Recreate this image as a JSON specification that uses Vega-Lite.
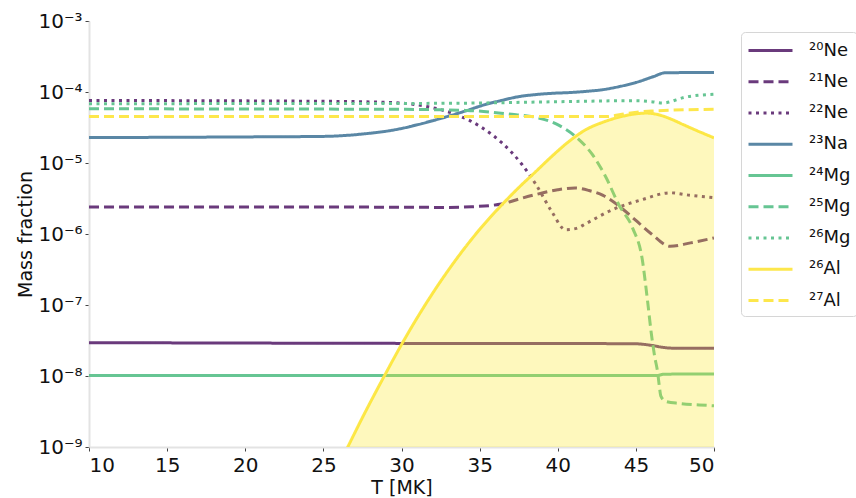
{
  "$schema": "https://vega.github.io/schema/vega-lite/v6.json",
  "autosize": "none",
  "width": 625,
  "height": 426,
  "padding": {"left": 89, "top": 21, "right": 142, "bottom": 51},
  "background": "white",
  "config": {
    "view": {"stroke": null},
    "font": "DejaVu Sans",
    "axis": {
      "grid": false,
      "domainColor": "#e3e3e3",
      "domainWidth": 2,
      "tickColor": "#444444",
      "tickSize": 4,
      "tickWidth": 1,
      "labelFont": "DejaVu Sans",
      "labelFontSize": 20,
      "labelColor": "#111111",
      "titleFont": "DejaVu Sans",
      "titleFontSize": 19,
      "titleFontWeight": "normal",
      "titleColor": "#111111"
    }
  },
  "data": {
    "values": [
      {"T": 10, "v": 2.95e-8, "iso": "²⁰Ne"},
      {"T": 20, "v": 2.91e-8, "iso": "²⁰Ne"},
      {"T": 30, "v": 2.88e-8, "iso": "²⁰Ne"},
      {"T": 40, "v": 2.87e-8, "iso": "²⁰Ne"},
      {"T": 45, "v": 2.84e-8, "iso": "²⁰Ne"},
      {"T": 46, "v": 2.7e-8, "iso": "²⁰Ne"},
      {"T": 46.8, "v": 2.52e-8, "iso": "²⁰Ne"},
      {"T": 47.5, "v": 2.46e-8, "iso": "²⁰Ne"},
      {"T": 50, "v": 2.45e-8, "iso": "²⁰Ne"},

      {"T": 10, "v": 2.4e-6, "iso": "²¹Ne"},
      {"T": 25, "v": 2.4e-6, "iso": "²¹Ne"},
      {"T": 33, "v": 2.37e-6, "iso": "²¹Ne"},
      {"T": 34.5, "v": 2.42e-6, "iso": "²¹Ne"},
      {"T": 36.4, "v": 2.65e-6, "iso": "²¹Ne"},
      {"T": 37.5, "v": 3.1e-6, "iso": "²¹Ne"},
      {"T": 38.6, "v": 3.6e-6, "iso": "²¹Ne"},
      {"T": 40, "v": 4.2e-6, "iso": "²¹Ne"},
      {"T": 41.1, "v": 4.45e-6, "iso": "²¹Ne"},
      {"T": 42, "v": 4.1e-6, "iso": "²¹Ne"},
      {"T": 42.9, "v": 3.5e-6, "iso": "²¹Ne"},
      {"T": 44, "v": 2.4e-6, "iso": "²¹Ne"},
      {"T": 45, "v": 1.55e-6, "iso": "²¹Ne"},
      {"T": 46, "v": 1.0e-6, "iso": "²¹Ne"},
      {"T": 47.2, "v": 6.7e-7, "iso": "²¹Ne"},
      {"T": 48.5, "v": 7.5e-7, "iso": "²¹Ne"},
      {"T": 50, "v": 8.8e-7, "iso": "²¹Ne"},

      {"T": 10, "v": 7.6e-5, "iso": "²²Ne"},
      {"T": 25, "v": 7.4e-5, "iso": "²²Ne"},
      {"T": 29, "v": 7.15e-5, "iso": "²²Ne"},
      {"T": 31.7, "v": 6.2e-5, "iso": "²²Ne"},
      {"T": 33.4, "v": 4.9e-5, "iso": "²²Ne"},
      {"T": 35.1, "v": 3.2e-5, "iso": "²²Ne"},
      {"T": 36.4, "v": 1.95e-5, "iso": "²²Ne"},
      {"T": 37.7, "v": 9.6e-6, "iso": "²²Ne"},
      {"T": 38.6, "v": 5.0e-6, "iso": "²²Ne"},
      {"T": 39.6, "v": 2.1e-6, "iso": "²²Ne"},
      {"T": 40.5, "v": 1.15e-6, "iso": "²²Ne"},
      {"T": 41.2, "v": 1.2e-6, "iso": "²²Ne"},
      {"T": 41.8, "v": 1.4e-6, "iso": "²²Ne"},
      {"T": 43.5, "v": 2.2e-6, "iso": "²²Ne"},
      {"T": 45.4, "v": 3.05e-6, "iso": "²²Ne"},
      {"T": 47.2, "v": 3.8e-6, "iso": "²²Ne"},
      {"T": 48.5, "v": 3.5e-6, "iso": "²²Ne"},
      {"T": 50, "v": 3.25e-6, "iso": "²²Ne"},

      {"T": 10, "v": 2.28e-5, "iso": "²³Na"},
      {"T": 20, "v": 2.33e-5, "iso": "²³Na"},
      {"T": 25, "v": 2.37e-5, "iso": "²³Na"},
      {"T": 26.5, "v": 2.45e-5, "iso": "²³Na"},
      {"T": 27.8, "v": 2.6e-5, "iso": "²³Na"},
      {"T": 29, "v": 2.8e-5, "iso": "²³Na"},
      {"T": 29.9, "v": 3.03e-5, "iso": "²³Na"},
      {"T": 31, "v": 3.45e-5, "iso": "²³Na"},
      {"T": 32.1, "v": 4.0e-5, "iso": "²³Na"},
      {"T": 33.2, "v": 4.7e-5, "iso": "²³Na"},
      {"T": 34.2, "v": 5.5e-5, "iso": "²³Na"},
      {"T": 35.3, "v": 6.6e-5, "iso": "²³Na"},
      {"T": 36.4, "v": 7.6e-5, "iso": "²³Na"},
      {"T": 37.5, "v": 8.6e-5, "iso": "²³Na"},
      {"T": 38.6, "v": 9.2e-5, "iso": "²³Na"},
      {"T": 39.7, "v": 9.6e-5, "iso": "²³Na"},
      {"T": 40.7, "v": 9.8e-5, "iso": "²³Na"},
      {"T": 41.8, "v": 1.02e-4, "iso": "²³Na"},
      {"T": 42.9, "v": 1.08e-4, "iso": "²³Na"},
      {"T": 44, "v": 1.2e-4, "iso": "²³Na"},
      {"T": 45, "v": 1.36e-4, "iso": "²³Na"},
      {"T": 46.1, "v": 1.64e-4, "iso": "²³Na"},
      {"T": 46.9, "v": 1.87e-4, "iso": "²³Na"},
      {"T": 50, "v": 1.88e-4, "iso": "²³Na"},

      {"T": 10, "v": 1.02e-8, "iso": "²⁴Mg"},
      {"T": 46.4, "v": 1.02e-8, "iso": "²⁴Mg"},
      {"T": 46.8, "v": 1.06e-8, "iso": "²⁴Mg"},
      {"T": 50, "v": 1.07e-8, "iso": "²⁴Mg"},

      {"T": 10, "v": 5.8e-5, "iso": "²⁵Mg"},
      {"T": 30, "v": 5.7e-5, "iso": "²⁵Mg"},
      {"T": 34.2, "v": 5.5e-5, "iso": "²⁵Mg"},
      {"T": 36.8, "v": 4.9e-5, "iso": "²⁵Mg"},
      {"T": 38.6, "v": 4.4e-5, "iso": "²⁵Mg"},
      {"T": 39.9, "v": 3.55e-5, "iso": "²⁵Mg"},
      {"T": 41.1, "v": 2.4e-5, "iso": "²⁵Mg"},
      {"T": 42.2, "v": 1.33e-5, "iso": "²⁵Mg"},
      {"T": 43.1, "v": 6.2e-6, "iso": "²⁵Mg"},
      {"T": 43.9, "v": 2.6e-6, "iso": "²⁵Mg"},
      {"T": 44.8, "v": 1.2e-6, "iso": "²⁵Mg"},
      {"T": 45.4, "v": 4.5e-7, "iso": "²⁵Mg"},
      {"T": 45.76, "v": 1.08e-7, "iso": "²⁵Mg"},
      {"T": 45.98, "v": 4.1e-8, "iso": "²⁵Mg"},
      {"T": 46.2, "v": 1.9e-8, "iso": "²⁵Mg"},
      {"T": 46.4, "v": 1.1e-8, "iso": "²⁵Mg"},
      {"T": 46.5, "v": 7.2e-9, "iso": "²⁵Mg"},
      {"T": 46.6, "v": 5.2e-9, "iso": "²⁵Mg"},
      {"T": 46.9, "v": 4.4e-9, "iso": "²⁵Mg"},
      {"T": 47.8, "v": 4.1e-9, "iso": "²⁵Mg"},
      {"T": 49.6, "v": 3.85e-9, "iso": "²⁵Mg"},
      {"T": 50, "v": 3.8e-9, "iso": "²⁵Mg"},

      {"T": 10, "v": 6.85e-5, "iso": "²⁶Mg"},
      {"T": 30, "v": 6.9e-5, "iso": "²⁶Mg"},
      {"T": 35, "v": 7.0e-5, "iso": "²⁶Mg"},
      {"T": 40, "v": 7.3e-5, "iso": "²⁶Mg"},
      {"T": 45, "v": 7.55e-5, "iso": "²⁶Mg"},
      {"T": 46, "v": 7.3e-5, "iso": "²⁶Mg"},
      {"T": 46.7, "v": 7.0e-5, "iso": "²⁶Mg"},
      {"T": 48.2, "v": 8.5e-5, "iso": "²⁶Mg"},
      {"T": 50, "v": 9.3e-5, "iso": "²⁶Mg"},

      {"T": 25.5, "v": 3.4e-10, "iso": "²⁶Al"},
      {"T": 26.56, "v": 1.0e-9, "iso": "²⁶Al"},
      {"T": 27.5, "v": 2.6e-9, "iso": "²⁶Al"},
      {"T": 28.91, "v": 1.01e-8, "iso": "²⁶Al"},
      {"T": 30.08, "v": 2.98e-8, "iso": "²⁶Al"},
      {"T": 31.79, "v": 1.25e-7, "iso": "²⁶Al"},
      {"T": 33.0, "v": 3.1e-7, "iso": "²⁶Al"},
      {"T": 33.92, "v": 5.85e-7, "iso": "²⁶Al"},
      {"T": 35.0, "v": 1.16e-6, "iso": "²⁶Al"},
      {"T": 36.4, "v": 2.55e-6, "iso": "²⁶Al"},
      {"T": 37.5, "v": 4.5e-6, "iso": "²⁶Al"},
      {"T": 38.6, "v": 7.6e-6, "iso": "²⁶Al"},
      {"T": 39.6, "v": 1.23e-5, "iso": "²⁶Al"},
      {"T": 40.7, "v": 2.0e-5, "iso": "²⁶Al"},
      {"T": 41.8, "v": 2.95e-5, "iso": "²⁶Al"},
      {"T": 42.9, "v": 3.76e-5, "iso": "²⁶Al"},
      {"T": 44.0, "v": 4.47e-5, "iso": "²⁶Al"},
      {"T": 45.0, "v": 4.93e-5, "iso": "²⁶Al"},
      {"T": 45.7, "v": 5.05e-5, "iso": "²⁶Al"},
      {"T": 46.5, "v": 4.75e-5, "iso": "²⁶Al"},
      {"T": 47.2, "v": 4.2e-5, "iso": "²⁶Al"},
      {"T": 48.0, "v": 3.5e-5, "iso": "²⁶Al"},
      {"T": 48.9, "v": 2.86e-5, "iso": "²⁶Al"},
      {"T": 50, "v": 2.26e-5, "iso": "²⁶Al"},

      {"T": 10, "v": 4.5e-5, "iso": "²⁷Al"},
      {"T": 43, "v": 4.5e-5, "iso": "²⁷Al"},
      {"T": 44.5, "v": 5.0e-5, "iso": "²⁷Al"},
      {"T": 46, "v": 5.4e-5, "iso": "²⁷Al"},
      {"T": 50, "v": 5.7e-5, "iso": "²⁷Al"}
    ]
  },
  "layer": [
    {
      "mark": {"type": "line", "strokeWidth": 3, "clip": true, "interpolate": "monotone"},
      "encoding": {
        "x": {
          "field": "T", "type": "quantitative",
          "scale": {"domain": [10, 50], "nice": false},
          "axis": {"values": [10, 15, 20, 25, 30, 35, 40, 45, 50], "title": "T [MK]", "labelPadding": 4, "titlePadding": 3}
        },
        "y": {
          "field": "v", "type": "quantitative",
          "scale": {"type": "log", "domain": [1e-9, 1e-3], "nice": false},
          "axis": {
            "values": [1e-9, 1e-8, 1e-7, 1e-6, 1e-5, 1e-4, 1e-3],
            "labelExpr": "'10' + ['⁰','⁻¹','⁻²','⁻³','⁻⁴','⁻⁵','⁻⁶','⁻⁷','⁻⁸','⁻⁹'][-round(log(datum.value)/LN10)]",
            "title": "Mass fraction",
            "labelPadding": 3,
            "titlePadding": 2
          }
        },
        "color": {
          "field": "iso", "type": "nominal",
          "scale": {
            "domain": ["²⁰Ne", "²¹Ne", "²²Ne", "²³Na", "²⁴Mg", "²⁵Mg", "²⁶Mg", "²⁶Al", "²⁷Al"],
            "range": ["#6a3a7c", "#6a3a7c", "#6a3a7c", "#5a87a5", "#66c593", "#66c593", "#66c593", "#fde74c", "#fde74c"]
          },
          "legend": {
            "title": null,
            "orient": "none",
            "legendX": 652,
            "legendY": 11,
            "symbolType": "M-2,0L2,0",
            "symbolStrokeWidth": 3,
            "symbolSize": 484,
            "symbolOffset": 11,
            "labelFontSize": 18,
            "labelFont": "DejaVu Sans",
            "labelColor": "#111111",
            "labelOffset": 26,
            "rowPadding": 9.25,
            "padding": 6,
            "strokeColor": "#d6d6d6",
            "fillColor": "white",
            "cornerRadius": 4
          }
        },
        "strokeDash": {
          "field": "iso", "type": "nominal",
          "scale": {
            "domain": ["²⁰Ne", "²¹Ne", "²²Ne", "²³Na", "²⁴Mg", "²⁵Mg", "²⁶Mg", "²⁶Al", "²⁷Al"],
            "range": [[1, 0], [10, 5], [3, 4.5], [1, 0], [1, 0], [10, 5], [3, 4.5], [1, 0], [10, 5]]
          }
        }
      }
    },
    {
      "transform": [{"filter": "datum.iso === '²⁶Al'"}],
      "mark": {"type": "area", "clip": true, "interpolate": "monotone", "color": "#fde725", "opacity": 0.3},
      "encoding": {
        "x": {"field": "T", "type": "quantitative"},
        "y": {"field": "v", "type": "quantitative"},
        "y2": {"datum": 1e-9}
      }
    }
  ]
}
